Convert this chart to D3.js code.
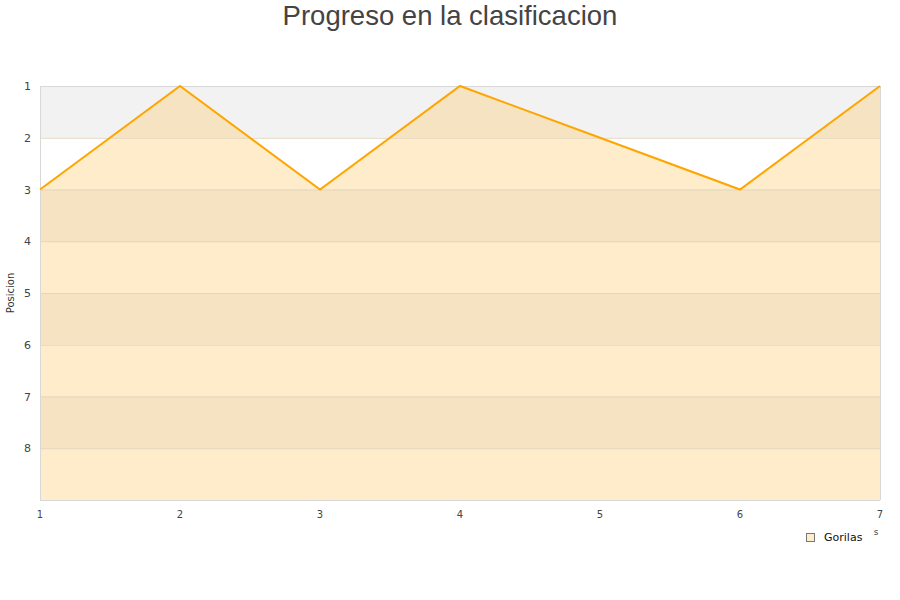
<!DOCTYPE html>
<html><head><meta charset="utf-8">
<script src="https://cdn.jsdelivr.net/npm/d3@7"></script>
<style>body{margin:0;background:#fff}svg{display:block}</style>
</head><body>
<svg id="c" width="900" height="600"></svg>
<script>
const jornadas = [1, 2, 3, 4, 5, 6, 7];
const posiciones = [3, 1, 3, 1, 2, 3, 1];
const yTicks = [1, 2, 3, 4, 5, 6, 7, 8];
const seriesName = "Gorilas";
const titleText = "Progreso en la clasificacion";
const yTitle = "Posicion";

const svg = d3.select("#c");
const m = {l: 40, r: 20, t: 86, b: 100};
const W = 900, H = 600;
const x = d3.scaleLinear().domain([1, 7]).range([m.l, W - m.r]);
const y = d3.scaleLinear().domain([1, 9]).range([m.t, H - m.b]);

// alternating bands
const bands = d3.range(1, 9);
svg.append("g").selectAll("rect").data(bands).join("rect")
  .attr("x", x(1)).attr("width", x(7) - x(1))
  .attr("y", d => y(d)).attr("height", d => y(d + 1) - y(d))
  .attr("fill", d => d % 2 === 1 ? "#f2f2f2" : "#ffffff");

// area
const area = d3.area().x((d, i) => x(jornadas[i])).y0(y(9)).y1(d => y(d));
svg.append("path").datum(posiciones).attr("d", area)
  .attr("fill", "rgb(255,191,78)").attr("fill-opacity", 0.3);

// grid lines
svg.append("g").selectAll("line").data(d3.range(1, 10)).join("line")
  .attr("x1", x(1)).attr("x2", x(7))
  .attr("y1", d => y(d) + 0.5).attr("y2", d => y(d) + 0.5)
  .attr("stroke", d => (d === 1 || d === 9) ? "#d8d8d8" : "#e2d6c0").attr("stroke-width", 1);
svg.append("line").attr("x1", x(1) + 0.5).attr("x2", x(1) + 0.5).attr("y1", y(1)).attr("y2", y(9)).attr("stroke", "#d8d8d8");
svg.append("line").attr("x1", x(7) + 0.5).attr("x2", x(7) + 0.5).attr("y1", y(1)).attr("y2", y(9)).attr("stroke", "#d8d8d8");

// line
const line = d3.line().x((d, i) => x(jornadas[i])).y(d => y(d));
svg.append("path").datum(posiciones).attr("d", line)
  .attr("fill", "none").attr("stroke", "#ffa500").attr("stroke-width", 2);

// y tick labels
svg.append("g").selectAll("text").data(yTicks).join("text")
  .attr("x", 31).attr("y", d => y(d) + 4).attr("text-anchor", "end")
  .attr("font-family", "DejaVu Sans").attr("font-size", 11).attr("fill", "#444")
  .text(d => d);

// x tick labels
svg.append("g").selectAll("text").data(jornadas).join("text")
  .attr("x", d => x(d)).attr("y", 518).attr("text-anchor", "middle")
  .attr("font-family", "DejaVu Sans").attr("font-size", 10).attr("fill", "#444")
  .text(d => d);

// y title
svg.append("text").attr("transform", "translate(14,293) rotate(-90)")
  .attr("text-anchor", "middle").attr("font-family", "DejaVu Sans").attr("font-size", 10)
  .attr("fill", "#333").text(yTitle);

// title
svg.append("text").attr("x", 450).attr("y", 25).attr("text-anchor", "middle")
  .attr("font-family", "Liberation Sans, Arial").attr("font-size", 27.5).attr("fill", "#444")
  .text(titleText);

// clipped x-axis title remnants
svg.append("text").attr("x", 876).attr("y", 535).attr("text-anchor", "middle")
  .attr("font-family", "DejaVu Sans").attr("font-size", 9).attr("fill", "#444").text("s");

// legend
svg.append("rect").attr("x", 806.5).attr("y", 533.5).attr("width", 8).attr("height", 8)
  .attr("fill", "#ffecca").attr("stroke", "#777");
svg.append("text").attr("x", 824).attr("y", 541).attr("font-family", "DejaVu Sans")
  .attr("font-size", 11).attr("fill", "#111").text(seriesName);
</script>
</body></html>
